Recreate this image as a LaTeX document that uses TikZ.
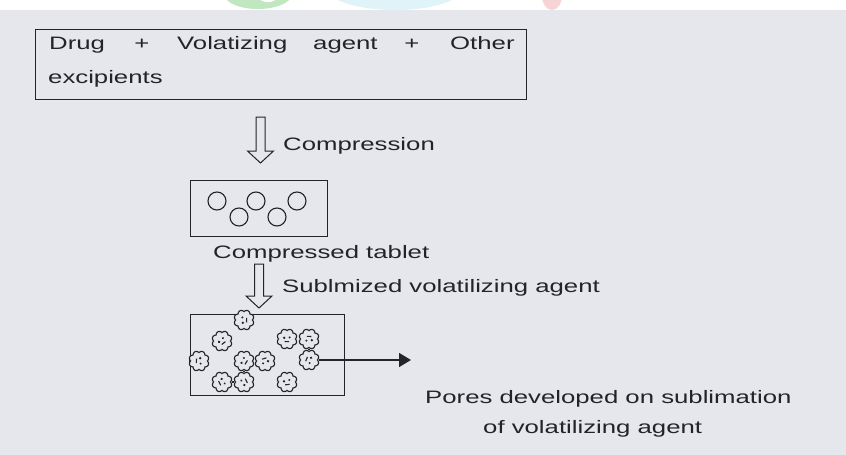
\documentclass[tikz,border=0pt]{standalone}
\usepackage{fontspec}
\setmainfont{Liberation Sans}[FakeStretch=1.43]
\usetikzlibrary{arrows.meta}

\definecolor{paper}{HTML}{E6E7EC}
\definecolor{ink}{HTML}{232329}
\definecolor{leaf}{HTML}{A6DEA6}
\definecolor{sky}{HTML}{D2EEF6}
\definecolor{rose}{HTML}{F2B8B8}

\tikzset{
  lbl/.style={inner sep=0pt, anchor=base west, text=ink,
              font=\fontsize{18}{22}\selectfont},
  frame/.style={draw=ink, line width=1.3pt, inner sep=0pt},
  hollow/.style={draw=ink, line width=1pt, fill=paper, line join=miter},
  porespot/.style={circle, inner sep=0pt, minimum size=20pt},
  bond/.style={draw=ink, line width=2.4pt},
  % open down arrow: shaft from 0 to the tip at #1 (downwards)
  pics/downarrow/.style={code={
    \draw[hollow] (-4.5,0) -- (-4.5,#1-12) -- (-13,#1-12) -- (0,#1)
                  -- (13,#1-12) -- (4.5,#1-12) -- (4.5,0) -- cycle;
  }},
  % scalloped pore with a few marks inside, turned by #1
  pics/pore/.style={code={
    \draw[ink, line width=1.1pt, fill=paper]
      plot[domain=0:360, samples=145, smooth cycle]
      ({(8.4+1.7*abs(sin(4*\x)))*cos(\x)}, {(8.4+1.7*abs(sin(4*\x)))*sin(\x)});
    \begin{scope}[rotate=#1]
      \fill[ink] (-2.8,-1.2) circle (1.3pt);
      \fill[ink] (2.6,-1.6) circle (1.1pt);
      \draw[ink, line width=1.1pt] (-2.4,2.5) -- (2.2,2.7);
    \end{scope}
  }},
}

\begin{document}
\begin{tikzpicture}[x=1pt, y=-1pt]
% page
\fill[paper] (0,0) rectangle (846,455);
\fill[white] (0,0) rectangle (846,10);
\begin{scope}
  \clip (0,0) rectangle (846,10);
  \fill[leaf, opacity=0.7] (258,-6) ellipse [x radius=34, y radius=15];
  \fill[white] (268,-10) ellipse [x radius=14, y radius=12];
  \fill[sky, opacity=0.7] (395,-12) ellipse [x radius=68, y radius=22];
  \fill[rose, opacity=0.6] (552,-4) ellipse [x radius=10, y radius=14];
\end{scope}
\useasboundingbox (0,0) rectangle (846,455);

% starting mixture
\node[frame, anchor=north west, minimum width=491pt, minimum height=70pt]
  (mix) at (35,29) {};
\node[lbl] (w1) at (49,49) {Drug};
\node[lbl, anchor=base] (w2) at (142,49) {+};
\node[lbl] (w3) at (177,49) {Volatizing};
\node[lbl] (w4) at (313,49) {agent};
\node[lbl, anchor=base] (w5) at (412,49) {+};
\node[lbl] (w6) at (450,49) {Other};
\node[lbl] (w7) at (48,83) {excipients};

% compression step
\coordinate (a1) at (260.5,117);
\pic at (a1) {downarrow=46};
\node[lbl] (comp) at (283,150) {Compression};

% compressed tablet
\node[frame, anchor=north west, minimum width=137pt, minimum height=56pt]
  (tab) at (190,180) {};
\foreach \px/\py [count=\i] in {217/201, 256/201, 297/201, 239/217, 277/217}
  \draw[ink, line width=1.1pt] (\px,\py) circle (9pt) node (c\i) {};
\node[lbl] (tabtxt) at (213,258) {Compressed tablet};

% sublimation step
\coordinate (a2) at (259,264);
\pic at (a2) {downarrow=44};
\node[lbl] (subl) at (282,292) {Sublmized volatilizing agent};

% porous tablet
\node[frame, anchor=north west, minimum width=154pt, minimum height=81pt]
  (por) at (190,314) {};

\node[porespot] (p1)  at (244,320) {};
\node[porespot] (p2)  at (222,341) {};
\node[porespot] (p3)  at (287,339) {};
\node[porespot] (p4)  at (309,339) {};
\node[porespot] (p5)  at (199,361) {};
\node[porespot] (p6)  at (244,361) {};
\node[porespot] (p7)  at (265,361) {};
\node[porespot] (p8)  at (309,360) {};
\node[porespot] (p9)  at (222,382) {};
\node[porespot] (p10) at (244,382) {};
\node[porespot] (p11) at (287,382) {};

% bridges between touching pores
\draw[bond] (p4.south) -- (p8.north);
\draw[bond] (p6.south) -- (p10.north);
\draw[bond] (p9.east) -- (p10.west);
\draw[bond] (por.west |- p5) -- (p5.west);

\foreach \n/\r in {p1/90, p2/40, p3/0, p4/180, p5/270, p6/60,
                   p7/200, p8/250, p9/300, p10/120, p11/10}
  \pic at (\n) {pore=\r};

% pointer to the caption
\coordinate (tip) at (411,360);
\draw[ink, line width=1.5pt, -{Triangle[length=12pt, width=14pt]}]
  (p8.east) -- (tip);

\node[lbl] (cap1) at (425,403) {Pores developed on sublimation};
\node[lbl] (cap2) at (483,433) {of volatilizing agent};
\end{tikzpicture}
\end{document}
